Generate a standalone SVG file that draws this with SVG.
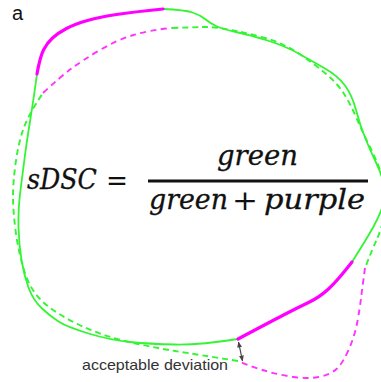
<svg xmlns="http://www.w3.org/2000/svg" width="381" height="382" viewBox="0 0 381 382">
<style>
.g{fill:none;stroke:#33f533;stroke-width:1.8;stroke-linecap:round;stroke-linejoin:round}
.m{fill:none;stroke:#f0f;stroke-width:3.2;stroke-linecap:round;stroke-linejoin:round}
.gd{fill:none;stroke:#33f533;stroke-width:1.9;stroke-dasharray:6 4}
.md{fill:none;stroke:#f3f;stroke-width:1.9;stroke-dasharray:6 4.5}
.f{font-family:"DejaVu Serif","Liberation Serif",serif;font-style:italic;font-size:28px;fill:#111;stroke:#111;stroke-width:0.3}
.fn{font-family:"DejaVu Serif","Liberation Serif",serif;font-size:28px;fill:#111}
</style>
<defs>
<marker id="ah" viewBox="0 0 10 10" refX="9" refY="5" markerWidth="5" markerHeight="5" orient="auto-start-reverse">
<path d="M0,1 L10,5 L0,9 z" fill="#444"/>
</marker>
</defs>
<rect width="381" height="382" fill="#fff"/>
<text x="12" y="20" font-family="Liberation Sans, Arial, sans-serif" font-size="20" fill="#111">a</text>
<g id="connectors">
<path class="md" d="M43,93 Q60,77 71.5,68.5 Q83,60 100,50 Q117,40 133.5,35 Q150,30 172,28"/>
<path class="gd" d="M172,28 Q200,27 207.5,27 Q215,27 231,30 Q247,33 265,38 Q283,43 298,53 Q313,63 325,73 Q337,83 343.5,93 Q350,103 356.5,118 Q363,133 370.5,148 Q378,163 383,179 Q388,195 385,211.5 Q382,228 377,239 Q372,250 365,268"/>
<path class="md" d="M365,268 Q362,290 361,298.5 Q360,307 357.5,321 Q355,335 349,349 Q343,363 336.5,369 Q330,375 318.5,377 Q307,379 293.5,377 Q280,375 267.5,371.5 Q255,368 238,361"/>
<path class="gd" d="M238,361 Q200,355 175,351 Q150,347 125,341 Q100,335 77.5,324 Q55,313 42.5,301.5 Q30,290 24,270 Q18,250 15.5,230 Q13,210 13,196.5 Q13,183 15.5,164 Q18,145 23,130 Q28,115 43,93"/>
<path class="g" d="M163,9 Q185,10 192.5,12.5 Q200,15 205,19 Q210,23 216,26 Q222,29 236,32 Q250,35 267.5,40.5 Q285,46 298.5,53.5 Q312,61 325,68.5 Q338,76 345,85.5 Q352,95 356,110 Q360,125 365,137.5 Q370,150 376,162.5 Q382,175 384,185 Q386,195 383,205 Q380,215 373,227.5 Q366,240 352,262"/>
<path class="g" d="M238,339 Q200,345 175,344.5 Q150,344 130,342 Q110,340 88.5,333.5 Q67,327 58.5,321.5 Q50,316 41.5,308 Q33,300 28.5,287.5 Q24,275 21.5,260 Q19,245 18.5,227.5 Q18,210 20.5,190 Q23,170 25,155 Q27,140 30,121.5 Q33,103 37,74"/>
<path class="m" d="M37,74 Q40,57 43.5,50 Q47,43 52.5,38 Q58,33 66.5,28.5 Q75,24 87.5,20.5 Q100,17 116.5,14.5 Q133,12 163,9"/>
<path class="m" d="M352,262 Q338,280 329,288.5 Q320,297 308.5,302.5 Q297,308 283.5,315 Q270,322 238,339"/>
<line x1="238.5" y1="342" x2="242.5" y2="361" stroke="#444" stroke-width="1.2" marker-start="url(#ah)" marker-end="url(#ah)"/>
</g>
<g id="label-deviation">
<text x="82" y="370" font-family="Liberation Sans, Arial, sans-serif" font-size="15" fill="#333" textLength="146" lengthAdjust="spacingAndGlyphs">acceptable deviation</text>
</g>
<g id="formula">
<text class="f" x="27" y="189" textLength="70" lengthAdjust="spacingAndGlyphs">sDSC</text>
<text class="fn" x="106" y="190" textLength="22" lengthAdjust="spacingAndGlyphs">=</text>
<text class="f" x="217" y="165" textLength="81" lengthAdjust="spacingAndGlyphs">green</text>
<rect x="148" y="179.5" width="220" height="3" fill="#111"/>
<text class="f" x="149" y="209" textLength="79" lengthAdjust="spacingAndGlyphs">green</text>
<text class="fn" x="232" y="210" textLength="26" lengthAdjust="spacingAndGlyphs">+</text>
<text class="f" x="264" y="209" textLength="101" lengthAdjust="spacingAndGlyphs">purple</text>
</g>
</svg>
